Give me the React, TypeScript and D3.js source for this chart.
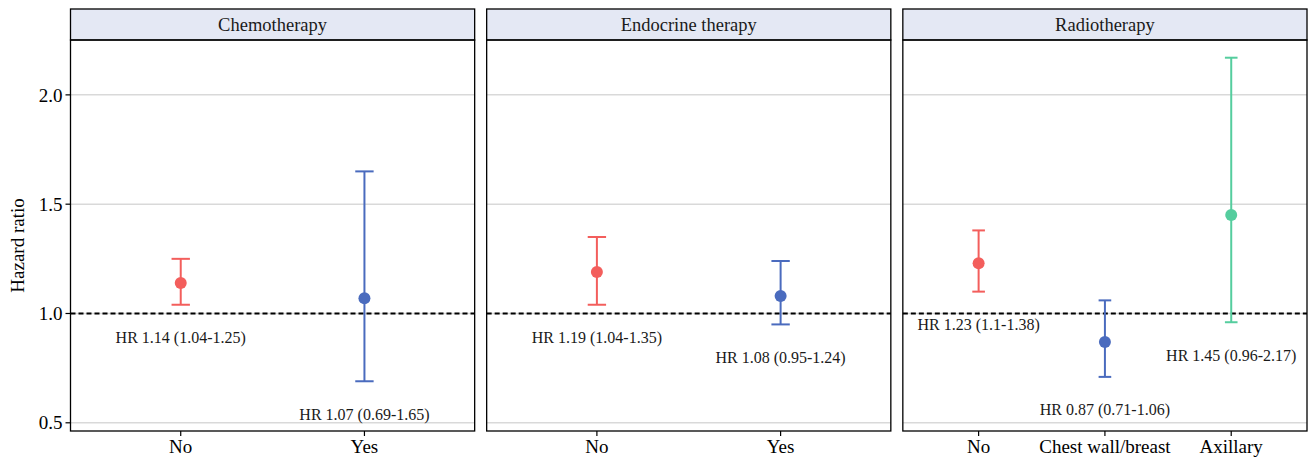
import React from 'react'
import * as d3 from 'd3'

const panels = ['Chemotherapy', 'Endocrine therapy', 'Radiotherapy']
const chemoGroups = ['No', 'Yes']
const chemoHR = [1.14, 1.07]
const chemoLow = [1.04, 0.69]
const chemoHigh = [1.25, 1.65]
const endoGroups = ['No', 'Yes']
const endoHR = [1.19, 1.08]
const endoLow = [1.04, 0.95]
const endoHigh = [1.35, 1.24]
const radioGroups = ['No', 'Chest wall/breast', 'Axillary']
const radioHR = [1.23, 0.87, 1.45]
const radioLow = [1.1, 0.71, 0.96]
const radioHigh = [1.38, 1.06, 2.17]
const yTicks = [0.5, 1.0, 1.5, 2.0]

const colors = ['#F35E5C', '#4A6BBE', '#55CD9E']
const font = '"Liberation Serif", "DejaVu Serif", serif'

const panelData = [
  { groups: chemoGroups, hr: chemoHR, lo: chemoLow, hi: chemoHigh },
  { groups: endoGroups, hr: endoHR, lo: endoLow, hi: endoHigh },
  { groups: radioGroups, hr: radioHR, lo: radioLow, hi: radioHigh },
]

const fmt = (v: number) => String(v)

export default function App() {
  const width = 1309
  const height = 458
  const top = 40
  const stripTop = 9
  const bottom = 431
  const left = 70.5
  const right = 1307
  const gap = 12
  const pw = (right - left - gap * 2) / 3

  const y = d3.scaleLinear().domain([0.4625, 2.251]).range([bottom, top])

  return (
    <svg width={width} height={height} style={{ position: 'absolute', left: 0, top: 0 }} fontFamily={font}>
      <rect width={width} height={height} fill="white" />
      <text transform={`translate(24,${(top + bottom) / 2 + 10}) rotate(-90)`} textAnchor="middle" fontSize={19} fill="black">
        Hazard ratio
      </text>
      {yTicks.map(t => (
        <g key={t}>
          <line x1={left - 5} x2={left} y1={y(t)} y2={y(t)} stroke="black" strokeWidth={1.2} />
          <text x={left - 8} y={y(t)} dy="0.35em" textAnchor="end" fontSize={19} fill="black">
            {t.toFixed(1)}
          </text>
        </g>
      ))}
      {panelData.map((p, pi) => {
        const x0 = left + pi * (pw + gap)
        const x = d3.scalePoint<string>().domain(p.groups).range([x0, x0 + pw]).padding(0.6)
        const capHalf = x.step() * 0.05
        return (
          <g key={pi}>
            <rect x={x0} y={stripTop} width={pw} height={top - stripTop} fill="#E4E8F4" stroke="black" strokeWidth={1.3} />
            <text x={x0 + pw / 2} y={(stripTop + top) / 2} dy="0.35em" textAnchor="middle" fontSize={18.5} fill="#1a1a1a">
              {panels[pi]}
            </text>
            {yTicks.map(t => (
              <line key={t} x1={x0} x2={x0 + pw} y1={y(t)} y2={y(t)} stroke="#d9d9d9" strokeWidth={1.5} />
            ))}
            <line x1={x0} x2={x0 + pw} y1={y(1)} y2={y(1)} stroke="black" strokeWidth={1.8} strokeDasharray="5,3" />
            {p.groups.map((g, i) => {
              const cx = x(g)!
              return (
                <g key={g}>
                  <line x1={cx} x2={cx} y1={y(p.lo[i])} y2={y(p.hi[i])} stroke={colors[i]} strokeWidth={2} />
                  <line x1={cx - capHalf} x2={cx + capHalf} y1={y(p.lo[i])} y2={y(p.lo[i])} stroke={colors[i]} strokeWidth={2} />
                  <line x1={cx - capHalf} x2={cx + capHalf} y1={y(p.hi[i])} y2={y(p.hi[i])} stroke={colors[i]} strokeWidth={2} />
                  <circle cx={cx} cy={y(p.hr[i])} r={6} fill={colors[i]} />
                  <text x={cx} y={y(p.lo[i] - 0.15)} dy="0.35em" textAnchor="middle" fontSize={16} fill="#1a1a1a">
                    {`HR ${fmt(p.hr[i])} (${fmt(p.lo[i])}-${fmt(p.hi[i])})`}
                  </text>
                  <line x1={cx} x2={cx} y1={bottom} y2={bottom + 5} stroke="black" strokeWidth={1.2} />
                  <text x={cx} y={bottom + 15} dy="0.35em" textAnchor="middle" fontSize={19} fill="black">
                    {g}
                  </text>
                </g>
              )
            })}
            <rect x={x0} y={top} width={pw} height={bottom - top} fill="none" stroke="black" strokeWidth={1.3} />
          </g>
        )
      })}
    </svg>
  )
}
